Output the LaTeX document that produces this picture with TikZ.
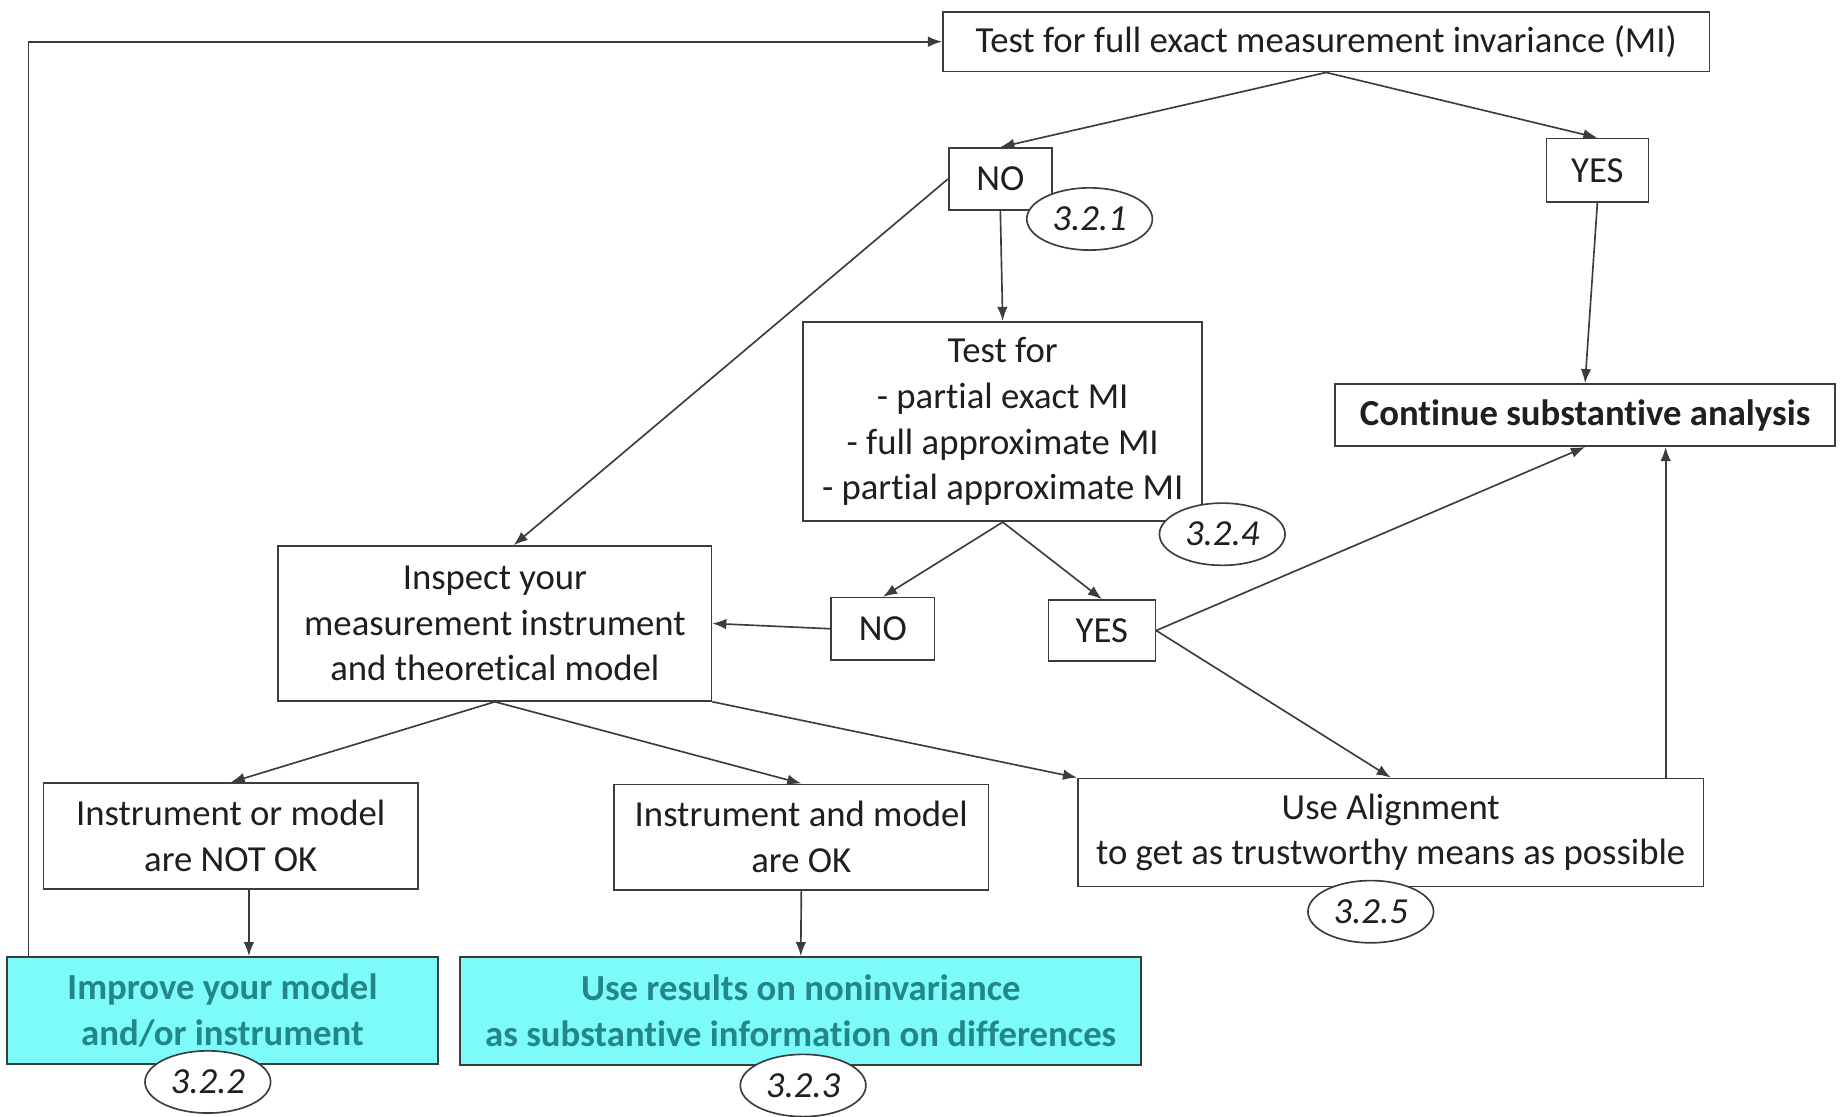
\documentclass[tikz,border=0pt]{standalone}
\usepackage{fontspec}
\setmainfont[Ligatures={NoCommon}]{Carlito}
\usepackage{tikz}
\usetikzlibrary{arrows.meta,calc,positioning,backgrounds,shapes.geometric}
\definecolor{boxline}{RGB}{60,60,60}
\definecolor{hilite}{RGB}{125,250,250}
\definecolor{hitext}{RGB}{35,135,135}
\newcommand{\boxfont}{\fontsize{17.8}{22.2}\selectfont}

\tikzset{
  box/.style={draw=boxline, fill=white, align=center, inner sep=0pt, line width=0.8pt},
  hibox/.style={box, fill=hilite, text=hitext, font=\boxfont\bfseries},
  sect/.style={draw=boxline, fill=white, ellipse, inner sep=0pt, line width=0.8pt,
    minimum width=2.14cm, minimum height=1.06cm, font=\boxfont\itshape},
  arr/.style={draw=boxline, line width=0.8pt, -{Latex[length=2.4mm,width=1.8mm]}},
}

\begin{document}
\begin{tikzpicture}[x=0.02cm, y=-0.02cm, font=\boxfont, text=black!88]
\useasboundingbox (0,0) rectangle (1568,951);
% first test
\node[box, minimum width=13.06cm, minimum height=1.02cm] (top) at (1129.5,35.5) {Test for full exact measurement invariance (MI)};
\node[box, minimum width=1.76cm, minimum height=1.06cm] (no1) at (852,152.5) {NO};
\node[box, minimum width=1.74cm, minimum height=1.08cm] (yes1) at (1360.5,145) {YES};
\node[sect] (s321) at (928,186.5) {3.2.1};
% partial / approximate tests
\node[box, minimum width=6.8cm, minimum height=3.4cm] (test) at (854,359) {Test for\\- partial exact MI\\- full approximate MI\\- partial approximate MI};
\node[sect] (s324) at (1041,455) {3.2.4};
\node[box, minimum width=8.52cm, minimum height=1.06cm, font=\boxfont\bfseries] (cont) at (1350,353.5) {Continue substantive analysis};
\node[box, minimum width=1.76cm, minimum height=1.06cm] (no2) at (752,535.5) {NO};
\node[box, minimum width=1.82cm, minimum height=1.04cm] (yes2) at (938.5,537) {YES};
% inspection
\node[box, minimum width=7.38cm, minimum height=2.64cm] (insp) at (421.5,531) {Inspect your\\measurement instrument\\and theoretical model};
\node[box, minimum width=6.38cm, minimum height=1.8cm] (notok) at (196.5,712) {Instrument or model\\are NOT OK};
\node[box, minimum width=6.38cm, minimum height=1.8cm] (ok) at (682.5,713) {Instrument and model\\are OK};
\node[box, minimum width=10.66cm, minimum height=1.84cm] (align) at (1184.5,709) {Use Alignment\\to get as trustworthy means as possible};
\node[sect] (s325) at (1167.5,776.5) {3.2.5};
% outcomes
\node[hibox, minimum width=7.34cm, minimum height=1.82cm] (improve) at (189.5,860.5) {Improve your model\\and/or instrument};
\node[hibox, minimum width=11.6cm, minimum height=1.84cm] (useres) at (682,861) {Use results on noninvariance\\as substantive information on differences};
\node[sect] (s322) at (177,921.5) {3.2.2};
\node[sect] (s323) at (684,924.5) {3.2.3};

% connectors
\begin{scope}[on background layer]
\draw[arr] ([xshift=0.38cm]improve.north west) |- (top.west);
\draw[arr] (top.south) -- (no1.north);
\draw[arr] (top.south) -- (yes1.north);
\draw[arr] (no1.west) -- ([xshift=0.32cm]insp.north);
\draw[arr] (no1.south) -- (test.north);
\draw[arr] (yes1.south) -- (cont.north);
\draw[arr] (test.south) -- (no2.north);
\draw[arr] (test.south) -- (yes2.north);
\draw[arr] (no2.west) -- (insp.east);
\draw[arr] (yes2.east) -- (cont.south);
\draw[arr] (yes2.east) -- (align.north);
\draw[arr] ([xshift=-0.66cm]align.north east) coordinate (a1) -- (a1 |- cont.south);
\draw[arr] (insp.south) -- (notok.north);
\draw[arr] (insp.south) -- (ok.north);
\draw[arr] (insp.south east) -- (align.north west);
\draw[arr] ([xshift=0.31cm]notok.south) coordinate (n1) -- (n1 |- improve.north);
\draw[arr] (ok.south) -- (useres.north);
\end{scope}
\end{tikzpicture}
\end{document}
